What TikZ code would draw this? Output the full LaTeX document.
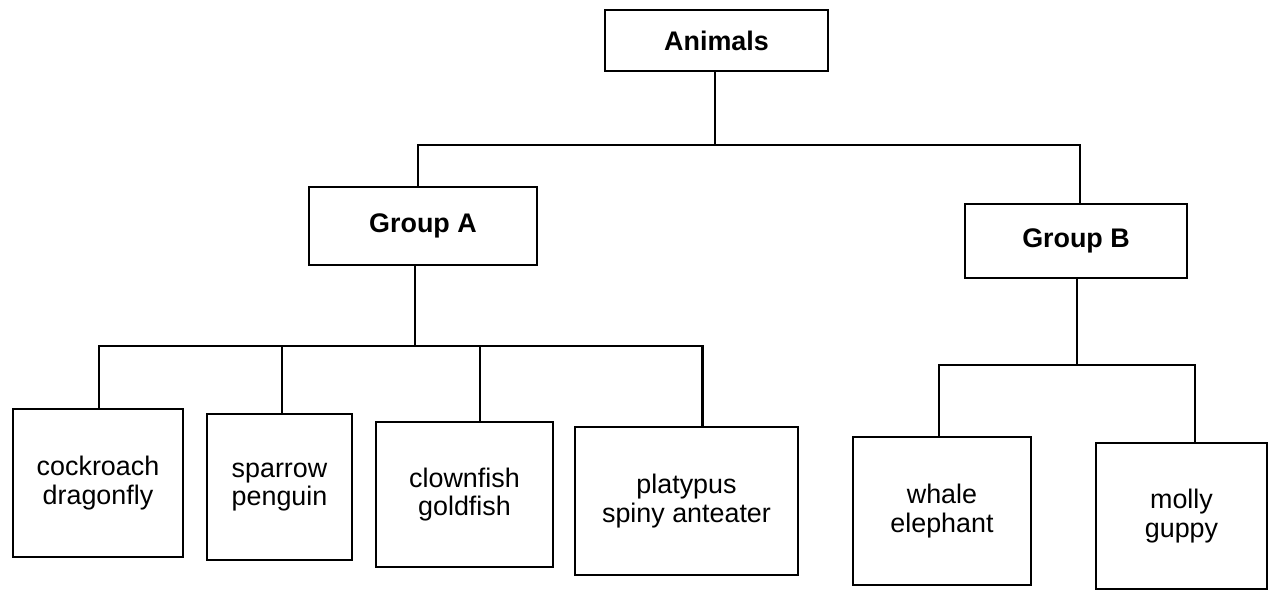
\documentclass[tikz,border=0pt]{standalone}
\usepackage{fontspec}
\setmainfont{Liberation Sans}
\begin{document}
\begin{tikzpicture}[x=0.02cm,y=-0.02cm,
  box/.style={draw, line width=1.2pt, align=center, inner sep=0pt,
    font=\fontsize{15.3}{16}\selectfont},
  head/.style={box, font=\fontsize{15.3}{16}\selectfont\bfseries},
  link/.style={line width=1.2pt, line cap=rect, line join=miter}]
\useasboundingbox (0,0) rectangle (1271,590);

% top level
\node[head, minimum width=223*0.02cm, minimum height=61*0.02cm] (animals) at (716.5,40.5) {Animals};

% groups
\node[head, minimum width=228*0.02cm, minimum height=78*0.02cm] (ga) at (423,226) {Group A};
\node[head, minimum width=222*0.02cm, minimum height=74*0.02cm] (gb) at (1076,241) {Group B};

% leaves of group A
\node[box, minimum width=170*0.02cm, minimum height=148*0.02cm] (a1) at (98,483) {cockroach\\dragonfly};
\node[box, minimum width=145*0.02cm, minimum height=146*0.02cm] (a2) at (279.5,487) {sparrow\\penguin};
\node[box, minimum width=177*0.02cm, minimum height=145*0.02cm] (a3) at (464.5,494.5) {clownfish\\goldfish};
\node[box, minimum width=223*0.02cm, minimum height=148*0.02cm] (a4) at (686.5,501) {platypus\\spiny anteater};

% leaves of group B
\node[box, minimum width=178*0.02cm, minimum height=148*0.02cm] (b1) at (942,511) {whale\\elephant};
\node[box, minimum width=171*0.02cm, minimum height=146*0.02cm] (b2) at (1181.5,516) {molly\\guppy};

% branch points
\coordinate (top) at (715,145);
\coordinate (abar) at (415,346);
\coordinate (bbar) at (1077,365);

% Animals to groups
\draw[link] (animals.south -| top) -- (top);
\draw[link] ([xshift=-5*0.02cm]ga.north) |- (top) -| ([xshift=4*0.02cm]gb.north);

% Group A to its leaves
\draw[link] (ga.south -| abar) -- (abar);
\draw[link] ([xshift=1*0.02cm]a1.north) |- (abar) -| ([xshift=16*0.02cm]a4.north);
\draw[link] ([xshift=2.5*0.02cm]a2.north) -- ([xshift=2.5*0.02cm]a2.north |- abar);
\draw[link] ([xshift=15.5*0.02cm]a3.north) -- ([xshift=15.5*0.02cm]a3.north |- abar);

% Group B to its leaves
\draw[link] (gb.south -| bbar) -- (bbar);
\draw[link] ([xshift=-3*0.02cm]b1.north) |- (bbar) -| ([xshift=13.5*0.02cm]b2.north);
\end{tikzpicture}
\end{document}
